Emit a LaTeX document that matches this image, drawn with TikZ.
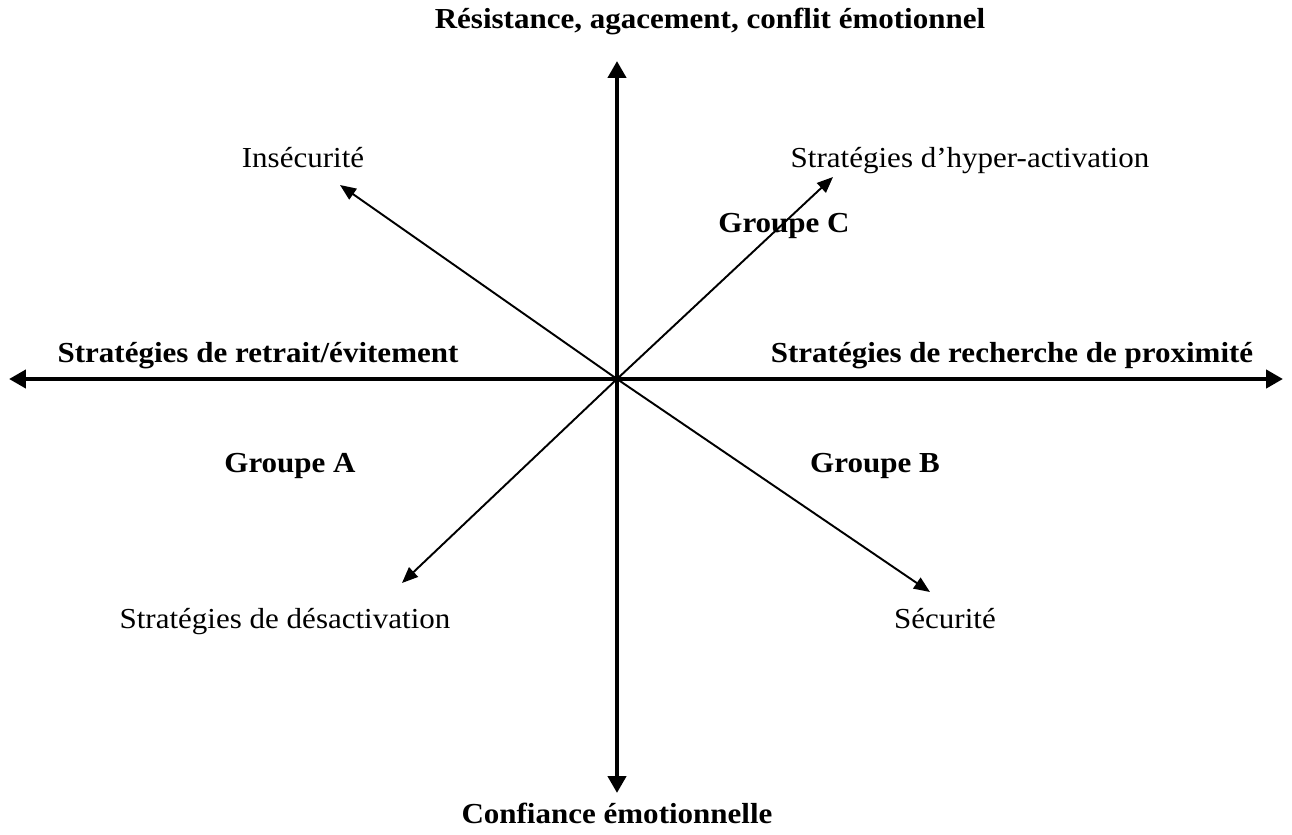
\documentclass[tikz,border=0pt]{standalone}
\usepackage{fontspec}
\setmainfont[FakeStretch=1.07]{Liberation Serif}
\usetikzlibrary{arrows.meta}
\tikzset{
	axe/.style={line width=2.8pt, {Triangle[length=0.34cm,width=0.36cm]}-{Triangle[length=0.34cm,width=0.36cm]}},
	fleche/.style={line width=1.1pt, -{Triangle[length=0.32cm,width=0.26cm]}},
	titre/.style={font=\bfseries\fontsize{16.5}{19}\selectfont, anchor=base},
	etiquette/.style={font=\fontsize{16.5}{19}\selectfont, anchor=base}
}
\begin{document}
\begin{tikzpicture}[x=0.02cm,y=-0.02cm]
	\useasboundingbox (0,0) rectangle (1292,835);
	\coordinate (O) at (617,379);
	\coordinate (haut) at (617,61);
	\coordinate (bas) at (617,793);
	\coordinate (gauche) at (9,379);
	\coordinate (droite) at (1283,379);
	\coordinate (hg) at (340,185);
	\coordinate (hd) at (833,177);
	\coordinate (bg) at (402,583);
	\coordinate (bd) at (930,592);

	\draw[axe] (bas) -- (haut);
	\draw[axe] (gauche) -- (droite);
	\draw[fleche] (O) -- (hg);
	\draw[fleche] (O) -- (hd);
	\draw[fleche] (O) -- (bg);
	\draw[fleche] (O) -- (bd);

	\node[titre] (resistance) at (710,29) {Résistance, agacement, conflit émotionnel};
	\node[titre] (confiance) at (617,823) {Confiance émotionnelle};
	\node[titre] (retrait) at (258,362) {Stratégies de retrait/évitement};
	\node[titre] (proximite) at (1012,362) {Stratégies de recherche de proximité};
	\node[titre] (groupeC) at (784,232) {Groupe C};
	\node[titre] (groupeA) at (290,472) {Groupe A};
	\node[titre] (groupeB) at (875,472) {Groupe B};

	\node[etiquette] (insecurite) at (303,167) {Insécurité};
	\node[etiquette] (hyper) at (970,167) {Stratégies d’hyper-activation};
	\node[etiquette] (desactivation) at (285,628) {Stratégies de désactivation};
	\node[etiquette] (securite) at (945,628) {Sécurité};
\end{tikzpicture}
\end{document}
